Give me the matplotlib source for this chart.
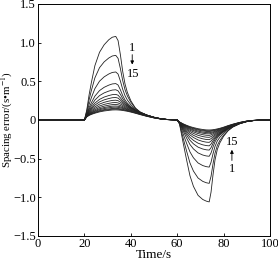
import numpy as np
import matplotlib
matplotlib.use("Agg")
import matplotlib.pyplot as plt

plt.rcParams['font.family'] = ['Liberation Serif', 'DejaVu Serif']
plt.rcParams['mathtext.fontset'] = 'stix'

# time grid for the acceleration phase (positive errors)
t_acc = [0, 20, 21, 22, 23, 24.5, 26.5, 28.5, 30.5, 32, 33.5, 34.5, 35.5, 36.5,
         37.5, 38.5, 40, 42, 44, 47, 50, 53, 56, 60]
acc_sharp = [0, 0, 0.12, 0.30, 0.45, 0.65, 0.81, 0.90, 0.96, 0.99, 1.0, 0.95, 0.78, 0.58,
             0.43, 0.33, 0.23, 0.14, 0.09, 0.05, 0.025, 0.01, 0.003, 0]
acc_smooth = [0, 0, 0.30, 0.45, 0.55, 0.67, 0.80, 0.89, 0.95, 0.99, 1.0, 0.99, 0.97, 0.94,
              0.90, 0.86, 0.78, 0.66, 0.53, 0.35, 0.20, 0.09, 0.03, 0]

# time grid for the deceleration phase (negative errors)
t_dec = [61, 62.5, 64, 65.5, 67, 69, 71, 72.5, 73.8, 74.6, 75.4, 76.3, 77.3, 78.4,
         80, 82, 84, 87, 90, 93, 96, 100]
dec_sharp = [0.05, 0.27, 0.48, 0.68, 0.81, 0.92, 0.97, 0.99, 1.0, 0.88, 0.68, 0.49, 0.36, 0.28,
             0.20, 0.13, 0.085, 0.045, 0.02, 0.008, 0.002, 0]
dec_smooth = [0.20, 0.38, 0.53, 0.66, 0.76, 0.87, 0.95, 0.99, 1.0, 0.99, 0.97, 0.94, 0.89, 0.83,
              0.72, 0.56, 0.42, 0.24, 0.11, 0.04, 0.01, 0]

# peak values for vehicles 1..15
pos_peak = [1.08, 0.835, 0.62, 0.47, 0.39, 0.33, 0.29, 0.255, 0.225, 0.20, 0.18, 0.165, 0.15, 0.14, 0.13]
neg_peak = [1.06, 0.82, 0.61, 0.47, 0.39, 0.335, 0.29, 0.255, 0.225, 0.20, 0.18, 0.165, 0.15, 0.14, 0.13]
# how smooth each vehicle's profile is (0 = like curve 1, 1 = like curve 15)
smooth_w = [0, 0.08, 0.16, 0.25, 0.35, 0.45, 0.55, 0.63, 0.71, 0.78, 0.84, 0.89, 0.93, 0.97, 1.0]

xticks = [0, 20, 40, 60, 80, 100]
yticks = [-1.5, -1.0, -0.5, 0, 0.5, 1.0, 1.5]
ytick_labels = ["\u22121.5", "\u22121.0", "\u22120.5", "0", "0.5", "1.0", "1.5"]

fig = plt.figure(figsize=(2.78, 2.61), dpi=100)
ax = fig.add_axes([0.137, 0.096, 0.834, 0.889])

t_all = np.array(t_acc + t_dec)
for a, b, w in zip(pos_peak, neg_peak, smooth_w):
    pa = a * ((1 - w) * np.array(acc_sharp) + w * np.array(acc_smooth))
    pd = -b * ((1 - w) * np.array(dec_sharp) + w * np.array(dec_smooth))
    ax.plot(t_all, np.concatenate([pa, pd]), color='#222222', lw=0.6)

ax.set_xlim(0, 100)
ax.set_ylim(-1.5, 1.5)
ax.set_xticks(xticks)
ax.set_yticks(yticks)
ax.set_yticklabels(ytick_labels)
ax.tick_params(direction='in', length=2.5, width=0.6, labelsize=9)
ax.tick_params(axis='x', pad=1.5)
ax.tick_params(axis='y', pad=1.5)
for s in ax.spines.values():
    s.set_linewidth(0.7)
ax.set_xlabel("Time/s", fontsize=9.5, labelpad=-1)
ax.set_ylabel("Spacing error/(s\u2022m$^{-1}$)", fontsize=7.8)
ax.yaxis.set_label_coords(-0.098, 0.5)

# annotations
ax.text(40.6, 0.935, "1", fontsize=9, ha='center', va='center')
ax.annotate("", xy=(40.6, 0.68), xytext=(40.6, 0.88),
            arrowprops=dict(arrowstyle='-|>', lw=0.6, color='black', mutation_scale=5))
ax.text(41.0, 0.59, "15", fontsize=9, ha='center', va='center')

ax.text(83.6, -0.28, "15", fontsize=9, ha='center', va='center')
ax.annotate("", xy=(83.6, -0.35), xytext=(83.6, -0.56),
            arrowprops=dict(arrowstyle='-|>', lw=0.6, color='black', mutation_scale=5))
ax.text(83.6, -0.63, "1", fontsize=9, ha='center', va='center')

fig.savefig("out.png", dpi=100)
